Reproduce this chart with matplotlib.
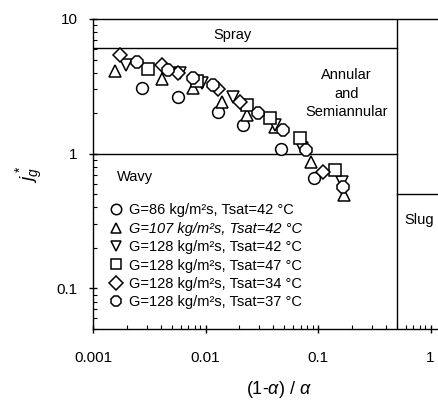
import matplotlib
matplotlib.use("Agg")
import matplotlib.pyplot as plt
from matplotlib.ticker import FixedLocator, FixedFormatter, LogLocator, NullFormatter

plt.rcParams['font.family'] = ['Liberation Sans', 'DejaVu Sans']
plt.rcParams['mathtext.fontset'] = 'custom'
plt.rcParams['mathtext.rm'] = 'Liberation Sans'
plt.rcParams['mathtext.it'] = 'Liberation Sans:italic'

# ---- data ----
circ_x = [0.00273, 0.0057, 0.0129, 0.0215, 0.0469, 0.0921]
circ_y = [3.08, 2.64, 2.05, 1.64, 1.09, 0.664]

tri_x = [0.00157, 0.0041, 0.00774, 0.0140, 0.0234, 0.0415, 0.0867, 0.170]
tri_y = [4.12, 3.59, 3.08, 2.43, 1.94, 1.58, 0.873, 0.497]

dtri_x = [0.00196, 0.00593, 0.0093, 0.0175, 0.0415, 0.0721, 0.163]
dtri_y = [4.56, 3.98, 3.36, 2.64, 1.64, 1.11, 0.621]

sq_x = [0.00308, 0.0084, 0.0234, 0.0374, 0.0692, 0.1416]
sq_y = [4.26, 3.45, 2.31, 1.85, 1.30, 0.761]

dia_x = [0.00174, 0.0041, 0.0057, 0.0129, 0.0203, 0.111]
dia_y = [5.41, 4.56, 3.98, 3.03, 2.43, 0.736]

hex_x = [0.00246, 0.00464, 0.00774, 0.0117, 0.0293, 0.0489, 0.0782, 0.167]
hex_y = [4.76, 4.19, 3.65, 3.24, 2.01, 1.51, 1.07, 0.570]

labels = ["G=86 kg/m²s, Tsat=42 °C",
          "G=107 kg/m²s, Tsat=42 °C",
          "G=128 kg/m²s, Tsat=42 °C",
          "G=128 kg/m²s, Tsat=47 °C",
          "G=128 kg/m²s, Tsat=34 °C",
          "G=128 kg/m²s, Tsat=37 °C"]

# regime boundaries
spray_j = 6.1
wavy_j = 1.0
vert_x = 0.5
slug_j = 0.5
xmin, xmax = 0.001, 2.0
ymin, ymax = 0.05, 10.0

xticks = [0.001, 0.01, 0.1, 1]
xticklabels = ["0.001", "0.01", "0.1", "1"]
yticks = [0.1, 1, 10]
yticklabels = ["0.1", "1", "10"]

fig = plt.figure(figsize=(4.38, 4.01), dpi=100)
ax = fig.add_axes([93/438, 72/401, 371.4/438, 310/401])
ax.set_xscale('log')
ax.set_yscale('log')
ax.set_xlim(xmin, xmax)
ax.set_ylim(ymin, ymax)

series = [(circ_x, circ_y, 'o'), (tri_x, tri_y, '^'), (dtri_x, dtri_y, 'v'),
          (sq_x, sq_y, 's'), (dia_x, dia_y, 'D'), (hex_x, hex_y, '8')]
sizes = {'o': 8.5, '^': 9, 'v': 9, 's': 8, 'D': 7.5, '8': 9}
handles = []
for (xs, ys, m), lab in zip(series, labels):
    h, = ax.plot(xs, ys, linestyle='none', marker=m, ms=sizes[m], mfc='white',
                 mec='black', mew=1.1, label=lab, zorder=3)
    handles.append(h)

lk = dict(color='black', lw=1.0, zorder=2)
ax.plot([xmin, vert_x], [spray_j, spray_j], **lk)
ax.plot([xmin, vert_x], [wavy_j, wavy_j], **lk)
ax.plot([vert_x, vert_x], [ymin, ymax], **lk)
ax.plot([vert_x, xmax], [slug_j, slug_j], **lk)

ax.text(0.0175, 7.6, "Spray", ha='center', va='center', fontsize=10.5)
ax.text(0.18, 2.78, "Annular\nand\nSemiannular", ha='center', va='center',
        fontsize=10.5, linespacing=1.4)
ax.text(0.00163, 0.675, "Wavy", ha='left', va='center', fontsize=10.5)
ax.text(0.585, 0.324, "Slug", ha='left', va='center', fontsize=10.5)

leg = ax.legend(handles=handles, loc='upper left', bbox_to_anchor=(0.045, 0.405),
                frameon=False, fontsize=10.5, handlelength=0.9, handletextpad=0.4,
                labelspacing=0.3, borderaxespad=0.0, borderpad=0.0)
leg.get_texts()[1].set_style('italic')
for lh in leg.legend_handles:
    lh.set_markersize(7.5)

ax.xaxis.set_major_locator(FixedLocator(xticks))
ax.xaxis.set_major_formatter(FixedFormatter(xticklabels))
ax.yaxis.set_major_locator(FixedLocator(yticks))
ax.yaxis.set_major_formatter(FixedFormatter(yticklabels))
ax.xaxis.set_minor_locator(LogLocator(base=10, subs=range(2, 10)))
ax.yaxis.set_minor_locator(LogLocator(base=10, subs=range(2, 10)))
ax.xaxis.set_minor_formatter(NullFormatter())
ax.yaxis.set_minor_formatter(NullFormatter())
ax.tick_params(which='major', direction='inout', length=6, width=1, labelsize=11, pad=8)
ax.tick_params(axis='x', which='major', pad=13)
ax.tick_params(which='minor', direction='in', length=3, width=0.8)
ax.tick_params(top=False, right=False)
for s in ax.spines.values():
    s.set_linewidth(1.0)

ax.set_xlabel(r"(1-$\alpha$) / $\alpha$", fontsize=13, labelpad=10)
ax.set_ylabel(r"$j_g^*$", fontsize=14)
ax.yaxis.set_label_coords(-0.13, 0.5)

fig.savefig("out.png", dpi=100)
